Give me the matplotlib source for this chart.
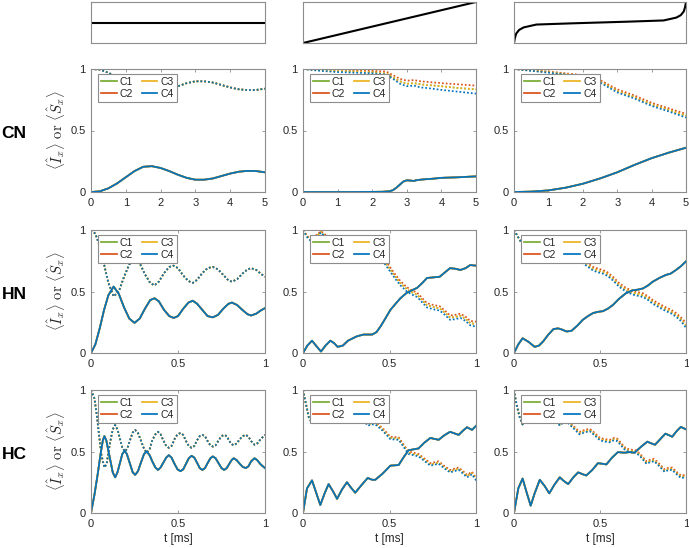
import matplotlib
matplotlib.use("Agg")
import matplotlib.pyplot as plt
from matplotlib.lines import Line2D

plt.rcParams['font.family'] = ['Liberation Sans', 'DejaVu Sans']
plt.rcParams['mathtext.fontset'] = 'cm'

series = ["C1", "C2", "C3", "C4"]
colors = ["#77AC30", "#D95319", "#EDB120", "#0072BD"]
row_names = ["CN", "HN", "HC"]
ylabel_text = r'$\langle\hat{I}_x\rangle\ \mathrm{or}\ \langle\hat{S}_x\rangle$'
xlabel_text = "t [ms]"

# ---- top shape panels ----
top1_x = [0, 1]
top1_y = [0.5, 0.5]
top2_x = [0, 1]
top2_y = [0, 1]
top3_x = [0, 0.005, 0.013, 0.03, 0.056, 0.13, 0.34, 0.5, 0.66, 0.87, 0.944, 0.97, 0.987, 0.995, 1.0]
top3_y = [0, 0.12, 0.23, 0.32, 0.38, 0.45, 0.48, 0.5, 0.52, 0.55, 0.62, 0.68, 0.77, 0.88, 1.0]

# ---- CN row ----
cn1_t = [0, 0.25, 0.5, 0.75, 1.0, 1.25, 1.5, 1.75, 2.0, 2.25, 2.5, 2.75, 3.0, 3.25, 3.5, 3.75, 4.0, 4.25, 4.5, 4.75, 5.0]
cn1_solid = [0, 0.005, 0.03, 0.07, 0.12, 0.17, 0.205, 0.21, 0.195, 0.17, 0.14, 0.115, 0.10, 0.10, 0.11, 0.13, 0.15, 0.165, 0.172, 0.17, 0.16]
cn1_dot = [1.0, 0.995, 0.97, 0.93, 0.88, 0.83, 0.795, 0.79, 0.805, 0.83, 0.86, 0.885, 0.90, 0.90, 0.89, 0.87, 0.85, 0.835, 0.828, 0.83, 0.84]

cn2_ts = [0, 0.5, 1, 1.5, 2, 2.3, 2.5, 2.6, 2.7, 2.8, 2.9, 3.0, 3.1, 3.2, 3.3, 3.5, 3.75, 4, 4.5, 5]
cn2_solid = [0, 0, 0, 0, 0.001, 0.002, 0.006, 0.015, 0.035, 0.06, 0.085, 0.095, 0.093, 0.09, 0.097, 0.103, 0.108, 0.115, 0.12, 0.127]
cn2_td = [0, 0.5, 1, 1.5, 2, 2.4, 2.6, 2.8, 3.0, 3.2, 3.4, 3.6, 4.0, 4.5, 5.0]
cn2_dot_c2 = [1.0, 1.0, 0.995, 0.99, 0.985, 0.98, 0.95, 0.92, 0.905, 0.91, 0.90, 0.895, 0.885, 0.875, 0.865]
cn2_dot_c3 = [1.0, 0.99, 0.985, 0.98, 0.975, 0.965, 0.93, 0.90, 0.88, 0.885, 0.875, 0.87, 0.86, 0.845, 0.835]
cn2_dot_c4 = [1.0, 0.985, 0.975, 0.97, 0.965, 0.955, 0.92, 0.88, 0.86, 0.865, 0.85, 0.845, 0.83, 0.815, 0.80]

cn3_t = [0, 0.5, 1, 1.5, 2, 2.5, 3, 3.5, 4, 4.5, 5]
cn3_solid = [0, 0.003, 0.013, 0.035, 0.067, 0.11, 0.16, 0.22, 0.275, 0.32, 0.36]
cn3_dot_c2 = [1.0, 0.99, 0.98, 0.965, 0.95, 0.91, 0.835, 0.785, 0.725, 0.68, 0.635]
cn3_dot_c3 = [1.0, 0.987, 0.975, 0.96, 0.943, 0.90, 0.822, 0.772, 0.712, 0.667, 0.62]
cn3_dot_c4 = [1.0, 0.985, 0.97, 0.955, 0.935, 0.89, 0.81, 0.76, 0.70, 0.655, 0.605]

# ---- HN row ----
hn1_t = [0, 0.025, 0.05, 0.075, 0.1, 0.13, 0.16, 0.19, 0.22, 0.25, 0.28, 0.31, 0.34, 0.365, 0.39, 0.42, 0.45, 0.475, 0.50, 0.53,
         0.56, 0.585, 0.61, 0.64, 0.67, 0.70, 0.73, 0.76, 0.79, 0.81, 0.84, 0.87, 0.90, 0.92, 0.95, 0.975, 1.0]
hn1_solid = [0, 0.07, 0.2, 0.35, 0.47, 0.54, 0.48, 0.37, 0.28, 0.245, 0.28, 0.36, 0.43, 0.445, 0.42, 0.35, 0.30, 0.285, 0.30, 0.36,
             0.41, 0.425, 0.40, 0.35, 0.30, 0.29, 0.31, 0.36, 0.40, 0.41, 0.39, 0.35, 0.315, 0.305, 0.32, 0.345, 0.365]
hn1_dot = [1.0, 0.97, 0.87, 0.72, 0.57, 0.46, 0.50, 0.62, 0.72, 0.76, 0.73, 0.64, 0.57, 0.55, 0.58, 0.65, 0.70, 0.71, 0.69, 0.63,
           0.585, 0.57, 0.595, 0.65, 0.69, 0.70, 0.68, 0.635, 0.59, 0.58, 0.60, 0.645, 0.68, 0.69, 0.675, 0.645, 0.62]

hn2_ts = [0, 0.025, 0.052, 0.078, 0.104, 0.13, 0.158, 0.18, 0.20, 0.23, 0.26, 0.31, 0.35, 0.40, 0.425, 0.45, 0.48, 0.505, 0.535, 0.563,
          0.60, 0.63, 0.66, 0.69, 0.717, 0.755, 0.79, 0.82, 0.85, 0.88, 0.91, 0.94, 0.967, 1.0]
hn2_solid = [0, 0.06, 0.10, 0.055, 0.012, 0.06, 0.10, 0.08, 0.05, 0.06, 0.10, 0.135, 0.15, 0.15, 0.17, 0.22, 0.29, 0.35, 0.40, 0.445,
             0.49, 0.51, 0.53, 0.57, 0.61, 0.615, 0.62, 0.655, 0.69, 0.685, 0.675, 0.69, 0.715, 0.71]
hn2_td = [0, 0.025, 0.052, 0.078, 0.104, 0.13, 0.158, 0.20, 0.26, 0.31, 0.35, 0.40, 0.45, 0.48, 0.505, 0.535, 0.563, 0.60, 0.63, 0.66,
          0.69, 0.717, 0.755, 0.79, 0.82, 0.85, 0.88, 0.91, 0.94, 0.967, 1.0]
hn2_dot_c2 = [1.0, 0.95, 0.92, 0.96, 0.99, 0.96, 0.92, 0.95, 0.92, 0.88, 0.87, 0.865, 0.80, 0.745, 0.695, 0.635, 0.585, 0.535, 0.51, 0.49,
              0.445, 0.405, 0.39, 0.38, 0.345, 0.305, 0.31, 0.32, 0.295, 0.26, 0.255]
hn2_dot_c3 = [1.0, 0.945, 0.91, 0.95, 0.985, 0.95, 0.91, 0.945, 0.91, 0.87, 0.857, 0.852, 0.785, 0.728, 0.678, 0.618, 0.568, 0.518, 0.493, 0.473,
              0.428, 0.388, 0.373, 0.363, 0.328, 0.288, 0.293, 0.303, 0.278, 0.243, 0.235]
hn2_dot_c4 = [1.0, 0.94, 0.90, 0.94, 0.98, 0.94, 0.90, 0.94, 0.90, 0.86, 0.845, 0.84, 0.77, 0.71, 0.66, 0.60, 0.55, 0.50, 0.475, 0.455,
              0.41, 0.37, 0.355, 0.345, 0.31, 0.27, 0.275, 0.285, 0.26, 0.225, 0.215]

hn3_ts = [0, 0.025, 0.05, 0.085, 0.12, 0.145, 0.17, 0.2, 0.23, 0.257, 0.28, 0.305, 0.334, 0.37, 0.40, 0.43, 0.46, 0.49, 0.517, 0.545,
          0.575, 0.61, 0.65, 0.69, 0.72, 0.75, 0.78, 0.807, 0.845, 0.884, 0.91, 0.942, 0.97, 1.0]
hn3_solid = [0, 0.07, 0.12, 0.09, 0.05, 0.06, 0.095, 0.15, 0.195, 0.2, 0.19, 0.175, 0.18, 0.225, 0.27, 0.30, 0.325, 0.335, 0.34, 0.36,
             0.39, 0.44, 0.485, 0.51, 0.515, 0.525, 0.55, 0.58, 0.61, 0.635, 0.645, 0.675, 0.705, 0.745]
hn3_td = [0, 0.025, 0.05, 0.085, 0.12, 0.17, 0.23, 0.28, 0.334, 0.37, 0.40, 0.43, 0.46, 0.49, 0.517, 0.545, 0.575, 0.61, 0.65, 0.69,
          0.72, 0.75, 0.78, 0.807, 0.845, 0.884, 0.91, 0.942, 0.97, 1.0]
hn3_dot_c2 = [1.0, 0.94, 0.88, 0.91, 0.95, 0.905, 0.805, 0.82, 0.835, 0.795, 0.755, 0.728, 0.70, 0.685, 0.675, 0.655, 0.62, 0.57, 0.53, 0.505,
              0.495, 0.485, 0.46, 0.43, 0.40, 0.37, 0.355, 0.325, 0.29, 0.245]
hn3_dot_c3 = [1.0, 0.94, 0.88, 0.91, 0.95, 0.905, 0.802, 0.815, 0.827, 0.785, 0.742, 0.714, 0.685, 0.67, 0.66, 0.64, 0.605, 0.555, 0.515, 0.49,
              0.48, 0.47, 0.445, 0.415, 0.385, 0.355, 0.34, 0.31, 0.275, 0.225]
hn3_dot_c4 = [1.0, 0.94, 0.88, 0.91, 0.95, 0.905, 0.80, 0.81, 0.82, 0.775, 0.73, 0.70, 0.67, 0.655, 0.645, 0.625, 0.59, 0.54, 0.50, 0.475,
              0.465, 0.455, 0.43, 0.40, 0.37, 0.34, 0.325, 0.295, 0.26, 0.205]

# ---- HC row ----
hc1_ts = [0, 0.02, 0.04, 0.055, 0.068, 0.077, 0.088, 0.108, 0.125, 0.139, 0.152, 0.167, 0.18, 0.193, 0.206, 0.224, 0.24, 0.254, 0.27, 0.287,
          0.305, 0.32, 0.337, 0.352, 0.37, 0.385, 0.40, 0.416, 0.432, 0.447, 0.463, 0.48, 0.497, 0.514, 0.53, 0.546, 0.562, 0.578, 0.594, 0.609,
          0.625, 0.64, 0.655, 0.67, 0.686, 0.70, 0.716, 0.733, 0.75, 0.765, 0.78, 0.795, 0.808, 0.82, 0.837, 0.855, 0.872, 0.89, 0.905, 0.92,
          0.94, 0.955, 0.975, 1.0]
hc1_solid = [0, 0.15, 0.33, 0.48, 0.59, 0.625, 0.59, 0.45, 0.33, 0.29, 0.33, 0.41, 0.48, 0.505, 0.48, 0.40, 0.33, 0.31, 0.34, 0.41,
             0.48, 0.50, 0.47, 0.42, 0.37, 0.35, 0.37, 0.41, 0.45, 0.47, 0.45, 0.40, 0.355, 0.34, 0.355, 0.40, 0.445, 0.465, 0.45, 0.41,
             0.365, 0.35, 0.365, 0.405, 0.445, 0.46, 0.445, 0.405, 0.365, 0.35, 0.365, 0.40, 0.43, 0.445, 0.43, 0.40, 0.375, 0.365, 0.38, 0.42,
             0.445, 0.43, 0.395, 0.365]
hc1_td = [0, 0.02, 0.033, 0.045, 0.06, 0.077, 0.09, 0.108, 0.125, 0.139, 0.152, 0.167, 0.18, 0.196, 0.21, 0.226, 0.24, 0.254, 0.27, 0.287,
          0.305, 0.32, 0.337, 0.352, 0.37, 0.385, 0.40, 0.416, 0.432, 0.447, 0.463, 0.48, 0.497, 0.514, 0.53, 0.546, 0.562, 0.578, 0.594, 0.609,
          0.625, 0.64, 0.655, 0.67, 0.686, 0.70, 0.716, 0.733, 0.75, 0.765, 0.78, 0.795, 0.808, 0.82, 0.837, 0.855, 0.872, 0.89, 0.905, 0.92,
          0.94, 0.955, 0.975, 1.0]
hc1_dot = [1.0, 0.93, 0.8, 0.65, 0.47, 0.37, 0.40, 0.56, 0.68, 0.715, 0.68, 0.60, 0.53, 0.50, 0.53, 0.60, 0.655, 0.675, 0.65, 0.59,
           0.52, 0.49, 0.52, 0.59, 0.64, 0.66, 0.64, 0.59, 0.545, 0.53, 0.545, 0.60, 0.64, 0.65, 0.635, 0.585, 0.545, 0.53, 0.545, 0.59,
           0.625, 0.635, 0.625, 0.585, 0.55, 0.54, 0.55, 0.59, 0.625, 0.635, 0.625, 0.585, 0.56, 0.55, 0.565, 0.60, 0.625, 0.635, 0.62, 0.585,
           0.555, 0.565, 0.60, 0.635]

hc2_ts = [0, 0.023, 0.052, 0.075, 0.10, 0.125, 0.148, 0.172, 0.197, 0.225, 0.254, 0.278, 0.302, 0.34, 0.374, 0.40, 0.418, 0.46, 0.505, 0.553,
          0.58, 0.61, 0.668, 0.70, 0.736, 0.784, 0.815, 0.85, 0.90, 0.925, 0.948, 0.977, 1.0]
hc2_solid = [0, 0.20, 0.265, 0.17, 0.065, 0.16, 0.235, 0.18, 0.115, 0.19, 0.25, 0.205, 0.165, 0.23, 0.285, 0.27, 0.27, 0.32, 0.385, 0.39,
             0.45, 0.51, 0.525, 0.57, 0.61, 0.595, 0.63, 0.66, 0.635, 0.67, 0.697, 0.676, 0.708]
hc2_td = [0, 0.015, 0.033, 0.052, 0.075, 0.10, 0.125, 0.148, 0.172, 0.197, 0.225, 0.254, 0.278, 0.302, 0.34, 0.374, 0.40, 0.418, 0.46, 0.505,
          0.553, 0.58, 0.61, 0.668, 0.70, 0.736, 0.784, 0.815, 0.85, 0.90, 0.925, 0.948, 0.977, 1.0]
hc2_dot_c2 = [1.0, 0.9, 0.78, 0.735, 0.825, 0.935, 0.85, 0.77, 0.82, 0.89, 0.815, 0.76, 0.805, 0.845, 0.79, 0.73, 0.74, 0.74, 0.69, 0.62,
              0.615, 0.56, 0.50, 0.48, 0.445, 0.405, 0.42, 0.385, 0.35, 0.37, 0.34, 0.31, 0.335, 0.285]
hc2_dot_c3 = [1.0, 0.9, 0.78, 0.732, 0.822, 0.932, 0.845, 0.765, 0.815, 0.885, 0.807, 0.752, 0.797, 0.837, 0.78, 0.72, 0.73, 0.73, 0.68, 0.61,
              0.605, 0.55, 0.49, 0.47, 0.435, 0.395, 0.41, 0.375, 0.34, 0.36, 0.33, 0.30, 0.325, 0.275]
hc2_dot_c4 = [1.0, 0.9, 0.78, 0.73, 0.82, 0.93, 0.84, 0.76, 0.81, 0.88, 0.80, 0.745, 0.79, 0.83, 0.77, 0.71, 0.72, 0.72, 0.67, 0.60,
              0.595, 0.54, 0.48, 0.46, 0.425, 0.385, 0.40, 0.365, 0.33, 0.35, 0.32, 0.29, 0.315, 0.265]

hc3_ts = [0, 0.025, 0.05, 0.075, 0.097, 0.12, 0.15, 0.178, 0.205, 0.235, 0.266, 0.29, 0.315, 0.345, 0.373, 0.40, 0.42, 0.455, 0.488, 0.515,
          0.537, 0.57, 0.604, 0.643, 0.67, 0.70, 0.74, 0.775, 0.80, 0.82, 0.85, 0.88, 0.905, 0.92, 0.945, 0.97, 1.0]
hc3_solid = [0, 0.2, 0.28, 0.16, 0.06, 0.16, 0.27, 0.22, 0.16, 0.23, 0.29, 0.26, 0.235, 0.29, 0.33, 0.315, 0.305, 0.35, 0.405, 0.40,
             0.395, 0.45, 0.495, 0.49, 0.495, 0.49, 0.54, 0.58, 0.565, 0.555, 0.60, 0.645, 0.63, 0.62, 0.665, 0.70, 0.68]
hc3_td = [0, 0.015, 0.033, 0.05, 0.075, 0.097, 0.12, 0.15, 0.178, 0.205, 0.235, 0.266, 0.29, 0.315, 0.345, 0.38, 0.41, 0.44, 0.47, 0.50,
          0.53, 0.556, 0.58, 0.60, 0.65, 0.68, 0.71, 0.74, 0.77, 0.795, 0.815, 0.845, 0.875, 0.90, 0.92, 0.945, 0.97, 1.0]
hc3_dot_c2 = [1.0, 0.88, 0.78, 0.72, 0.82, 0.92, 0.83, 0.74, 0.79, 0.845, 0.785, 0.725, 0.757, 0.748, 0.708, 0.66, 0.675, 0.685, 0.65, 0.61,
              0.60, 0.595, 0.61, 0.605, 0.525, 0.515, 0.51, 0.47, 0.42, 0.435, 0.44, 0.40, 0.355, 0.37, 0.37, 0.335, 0.305, 0.31]
hc3_dot_c3 = [1.0, 0.88, 0.78, 0.72, 0.82, 0.92, 0.83, 0.735, 0.785, 0.837, 0.777, 0.717, 0.748, 0.739, 0.699, 0.65, 0.665, 0.675, 0.64, 0.60,
              0.59, 0.585, 0.60, 0.595, 0.515, 0.505, 0.50, 0.46, 0.41, 0.425, 0.43, 0.39, 0.345, 0.36, 0.36, 0.325, 0.295, 0.30]
hc3_dot_c4 = [1.0, 0.88, 0.78, 0.72, 0.82, 0.92, 0.83, 0.73, 0.78, 0.83, 0.77, 0.71, 0.74, 0.73, 0.69, 0.64, 0.655, 0.665, 0.63, 0.59,
              0.58, 0.575, 0.59, 0.585, 0.505, 0.495, 0.49, 0.45, 0.40, 0.415, 0.42, 0.38, 0.335, 0.35, 0.35, 0.315, 0.285, 0.29]

# panel definitions: (t_solid, solid per series, t_dot, dotted per series, xmax, xticks, xticklabels)
panels = [
    [(cn1_t, [cn1_solid] * 4, cn1_t, [cn1_dot] * 4, 5, [0, 1, 2, 3, 4, 5], ["0", "1", "2", "3", "4", "5"]),
     (cn2_ts, [cn2_solid] * 4, cn2_td, [cn2_dot_c3, cn2_dot_c2, cn2_dot_c3, cn2_dot_c4], 5, [0, 1, 2, 3, 4, 5], ["0", "1", "2", "3", "4", "5"]),
     (cn3_t, [cn3_solid] * 4, cn3_t, [cn3_dot_c3, cn3_dot_c2, cn3_dot_c3, cn3_dot_c4], 5, [0, 1, 2, 3, 4, 5], ["0", "1", "2", "3", "4", "5"])],
    [(hn1_t, [hn1_solid] * 4, hn1_t, [hn1_dot] * 4, 1, [0, 0.5, 1], ["0", "0.5", "1"]),
     (hn2_ts, [hn2_solid] * 4, hn2_td, [hn2_dot_c3, hn2_dot_c2, hn2_dot_c3, hn2_dot_c4], 1, [0, 0.5, 1], ["0", "0.5", "1"]),
     (hn3_ts, [hn3_solid] * 4, hn3_td, [hn3_dot_c3, hn3_dot_c2, hn3_dot_c3, hn3_dot_c4], 1, [0, 0.5, 1], ["0", "0.5", "1"])],
    [(hc1_ts, [hc1_solid] * 4, hc1_td, [hc1_dot] * 4, 1, [0, 0.5, 1], ["0", "0.5", "1"]),
     (hc2_ts, [hc2_solid] * 4, hc2_td, [hc2_dot_c3, hc2_dot_c2, hc2_dot_c3, hc2_dot_c4], 1, [0, 0.5, 1], ["0", "0.5", "1"]),
     (hc3_ts, [hc3_solid] * 4, hc3_td, [hc3_dot_c3, hc3_dot_c2, hc3_dot_c3, hc3_dot_c4], 1, [0, 0.5, 1], ["0", "0.5", "1"])],
]

W, H = 689, 548
fig = plt.figure(figsize=(W / 100, H / 100), dpi=100)
spine_col = "#8c8c8c"
text_col = "#262626"
col_x = [(91, 265), (303, 476), (514, 686)]
row_y = [(69, 192), (230, 353), (390, 513)]
top_y = (2, 43)


def make_ax(xr, yr):
    return fig.add_axes([xr[0] / W, 1 - yr[1] / H, (xr[1] - xr[0]) / W, (yr[1] - yr[0]) / H])


def style(ax):
    for s in ax.spines.values():
        s.set_color(spine_col)
        s.set_linewidth(0.8)


tops = [(top1_x, top1_y), (top2_x, top2_y), (top3_x, top3_y)]
for j, (tx, ty) in enumerate(tops):
    ax = make_ax(col_x[j], top_y)
    ax.plot(tx, ty, color="black", lw=1.5)
    ax.set_xlim(0, 1)
    ax.set_ylim(0, 1)
    ax.set_xticks([])
    ax.set_yticks([])
    style(ax)

lw = 1.25
dot_style = (0, (1, 1.2))
for i in range(3):
    for j in range(3):
        ts, solids, td, dots, xmax, xt, xtl = panels[i][j]
        ax = make_ax(col_x[j], row_y[i])
        for k in range(4):
            ax.plot(td, dots[k], linestyle=dot_style, color=colors[k], lw=lw)
            ax.plot(ts, solids[k], '-', color=colors[k], lw=lw)
        ax.set_xlim(0, xmax)
        ax.set_ylim(0, 1)
        ax.set_xticks(xt)
        ax.set_xticklabels(xtl)
        ax.set_yticks([0, 0.5, 1])
        ax.set_yticklabels(["0", "0.5", "1"])
        ax.tick_params(direction="in", length=2.5, width=0.6, color=spine_col, top=True, right=True,
                       labelsize=8, labelcolor=text_col, pad=4)
        style(ax)
        handles = [Line2D([0], [0], color=c, lw=lw) for c in colors]
        leg = ax.legend(handles, series, ncol=2, loc="upper left", bbox_to_anchor=(0.04, 0.96),
                        borderaxespad=0, fontsize=7.5, handlelength=1.5, handletextpad=0.3,
                        columnspacing=0.8, labelspacing=0.15, borderpad=0.3,
                        fancybox=False, framealpha=1, edgecolor=spine_col)
        leg.get_frame().set_linewidth(0.8)
        for t in leg.get_texts():
            t.set_color(text_col)
        if i == 2:
            ax.set_xlabel(xlabel_text, fontsize=8.5, color=text_col, labelpad=3)

for i in range(3):
    yc = 1 - ((row_y[i][0] + row_y[i][1]) / 2 + 3) / H
    fig.text(14 / W, yc, row_names[i], fontsize=12.5, fontweight="bold", ha="center", va="center", color="black")
    fig.text(57 / W, 1 - ((row_y[i][0] + row_y[i][1]) / 2) / H, ylabel_text, fontsize=10.5, rotation=90,
             ha="center", va="center", color=text_col)

fig.savefig("out.png", dpi=100)
